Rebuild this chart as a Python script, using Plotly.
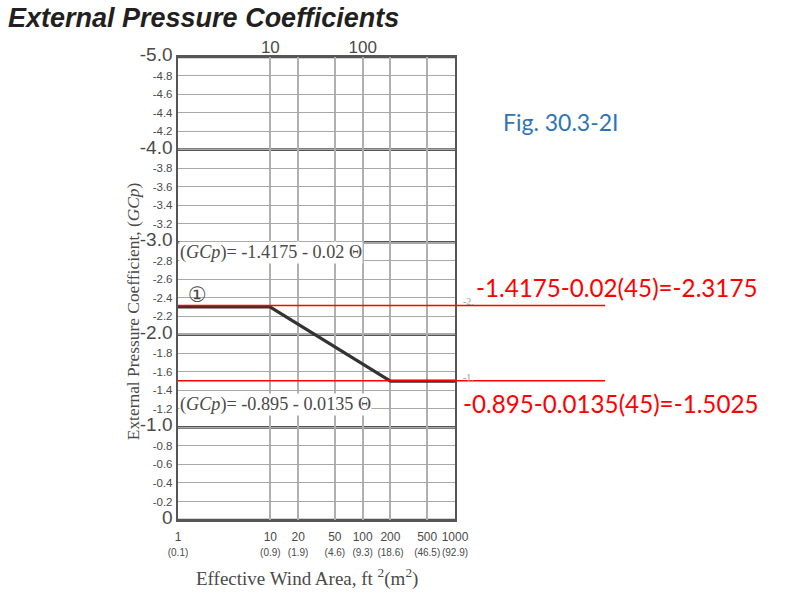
import plotly.graph_objects as go

# ---- data ----
area_ft2 = [1, 10, 200, 1000]
gcp_zone1 = [-2.3, -2.3, -1.5, -1.5]

x_tick_vals = [1, 10, 20, 50, 100, 200, 500, 1000]
x_tick_m2 = ["0.1", "0.9", "1.9", "4.6", "9.3", "18.6", "46.5", "92.9"]
top_tick_vals = [10, 100]

y_minor_vals = [round(-0.2 * i, 1) for i in range(0, 26)]
y_major_vals = [0, -1, -2, -3, -4, -5]

eval_values = [-2.3175, -1.5025]
eval_texts = ["-1.4175-0.02(45)=-2.3175", "-0.895-0.0135(45)=-1.5025"]
side_marks = ["-2.", "-1."]

NARROW = "Liberation Sans Narrow, Arial Narrow, Liberation Sans, Arial"
SERIF = "Liberation Serif, Times New Roman, serif"
GRAY = "#4a4a4a"

# y tick text: integers large, others small
def ytext(v):
    if abs(v - round(v)) < 1e-9:
        s = "0" if v == 0 else f"{v:.1f}"
        return f'<span style="font-size:19px">{s}</span>'
    return f"{v:.1f}"

y_tick_text = [ytext(v) for v in y_minor_vals]
x_tick_text = [f'{v}<br><span style="font-size:10px">({m})</span>' for v, m in zip(x_tick_vals, x_tick_m2)]

fig = go.Figure()
fig.add_trace(go.Scatter(x=area_ft2, y=gcp_zone1, mode="lines",
                         line=dict(color="#333333", width=3.2), showlegend=False,
                         hoverinfo="skip"))
# invisible trace for top axis
fig.add_trace(go.Scatter(x=top_tick_vals, y=[None, None], xaxis="x2", mode="markers",
                         marker=dict(opacity=0), showlegend=False, hoverinfo="skip"))

shapes = []
# heavy integer grid lines
for v in y_major_vals:
    shapes.append(dict(type="line", xref="paper", yref="y", x0=0, x1=1, y0=v, y1=v,
                       line=dict(color="#555555", width=2.6), layer="between"))
# red evaluation lines
for v in eval_values:
    shapes.append(dict(type="line", xref="paper", yref="y", x0=0, x1=1.542, y0=v, y1=v,
                       line=dict(color="#ff0000", width=1.5), layer="above"))

annotations = [
    dict(text="<b><i>External Pressure Coefficients</i></b>", xref="paper", yref="paper",
         x=-0.62, y=1.084, xanchor="left", yanchor="middle", showarrow=False,
         font=dict(family="Liberation Sans, Arial", size=27, color="#231f20")),
    dict(text="External Pressure Coefficient, (<i>GCp</i>)", xref="paper", yref="paper",
         x=-0.164, y=0.45, textangle=-90, xanchor="center", yanchor="middle",
         showarrow=False, font=dict(family=SERIF, size=17.4, color=GRAY)),
    dict(text="Effective Wind Area, ft <sup>2</sup>(m<sup>2</sup>)", xref="paper", yref="paper",
         x=0.465, y=-0.125, xanchor="center", yanchor="middle", showarrow=False,
         font=dict(family=SERIF, size=19, color=GRAY)),
    dict(text="(<i>GCp</i>)= -1.4175 - 0.02 \u0398", xref="paper", yref="y",
         x=0.004, y=-2.89, xanchor="left", yanchor="middle", showarrow=False,
         bgcolor="white", borderpad=0,
         font=dict(family=SERIF, size=18.2, color=GRAY)),
    dict(text="(<i>GCp</i>)= -0.895 - 0.0135 \u0398", xref="paper", yref="y",
         x=0.004, y=-1.245, xanchor="left", yanchor="middle", showarrow=False,
         bgcolor="white", borderpad=0,
         font=dict(family=SERIF, size=18.2, color=GRAY)),
    dict(text="\u2460", xref="paper", yref="y", x=0.07, y=-2.43, xanchor="center",
         yanchor="middle", showarrow=False,
         font=dict(family="DejaVu Sans, Noto Sans CJK JP", size=21, color=GRAY)),
    dict(text="Fig. 30.3-2I", xref="paper", yref="paper", x=1.165, y=0.86,
         xanchor="left", yanchor="middle", showarrow=False,
         font=dict(family="Lato, Open Sans", size=23, color="#2e74b5")),
]
for v, t, dy, xr in zip(eval_values, eval_texts, [-0.19, 0.24], [2.096, 2.103]):
    annotations.append(dict(text=t, xref="paper", yref="y", x=xr, y=v + dy,
                            xanchor="right", yanchor="middle", showarrow=False,
                            font=dict(family="Lato, Open Sans", size=24.2, color="#ff0000")))
for v, t in zip(eval_values, side_marks):
    annotations.append(dict(text=t, xref="paper", yref="y", x=1.048, y=v - 0.04,
                            xanchor="center", yanchor="middle", showarrow=False,
                            font=dict(family=SERIF, size=10, color="#999999")))

fig.update_layout(
    width=800, height=605,
    margin=dict(l=178, r=345, t=57, b=85),
    paper_bgcolor="white", plot_bgcolor="white",
    showlegend=False,
    shapes=shapes,
    annotations=annotations,
    xaxis=dict(type="log", range=[0, 3], tickmode="array", tickvals=x_tick_vals,
               ticktext=x_tick_text, ticks="", showgrid=True, gridcolor="#b0b0b0",
               gridwidth=1.5, zeroline=False, showline=True, mirror=True,
               linecolor="#555555", linewidth=2.4, ticklabelstandoff=4,
               tickangle=0, automargin=False,
               tickfont=dict(family=NARROW, size=12, color=GRAY)),
    xaxis2=dict(type="log", range=[0, 3], overlaying="x", side="top", tickmode="array",
                tickvals=top_tick_vals, ticktext=[str(v) for v in top_tick_vals],
                ticks="", showgrid=False, zeroline=False, showline=False,
                tickangle=0, automargin=False,
                tickfont=dict(family=NARROW, size=17, color=GRAY)),
    yaxis=dict(range=[0, -5], tickmode="array", tickvals=y_minor_vals,
               ticktext=y_tick_text, ticks="", showgrid=True, gridcolor="#a8a8a8",
               gridwidth=1.4, zeroline=False, showline=True, mirror=True,
               linecolor="#555555", linewidth=2.4, ticklabelstandoff=1,
               automargin=False,
               tickfont=dict(family=NARROW, size=11.5, color=GRAY)),
)

fig.write_html("out.html", config={"displayModeBar": False},
               post_script="document.body.style.margin='0px';")
